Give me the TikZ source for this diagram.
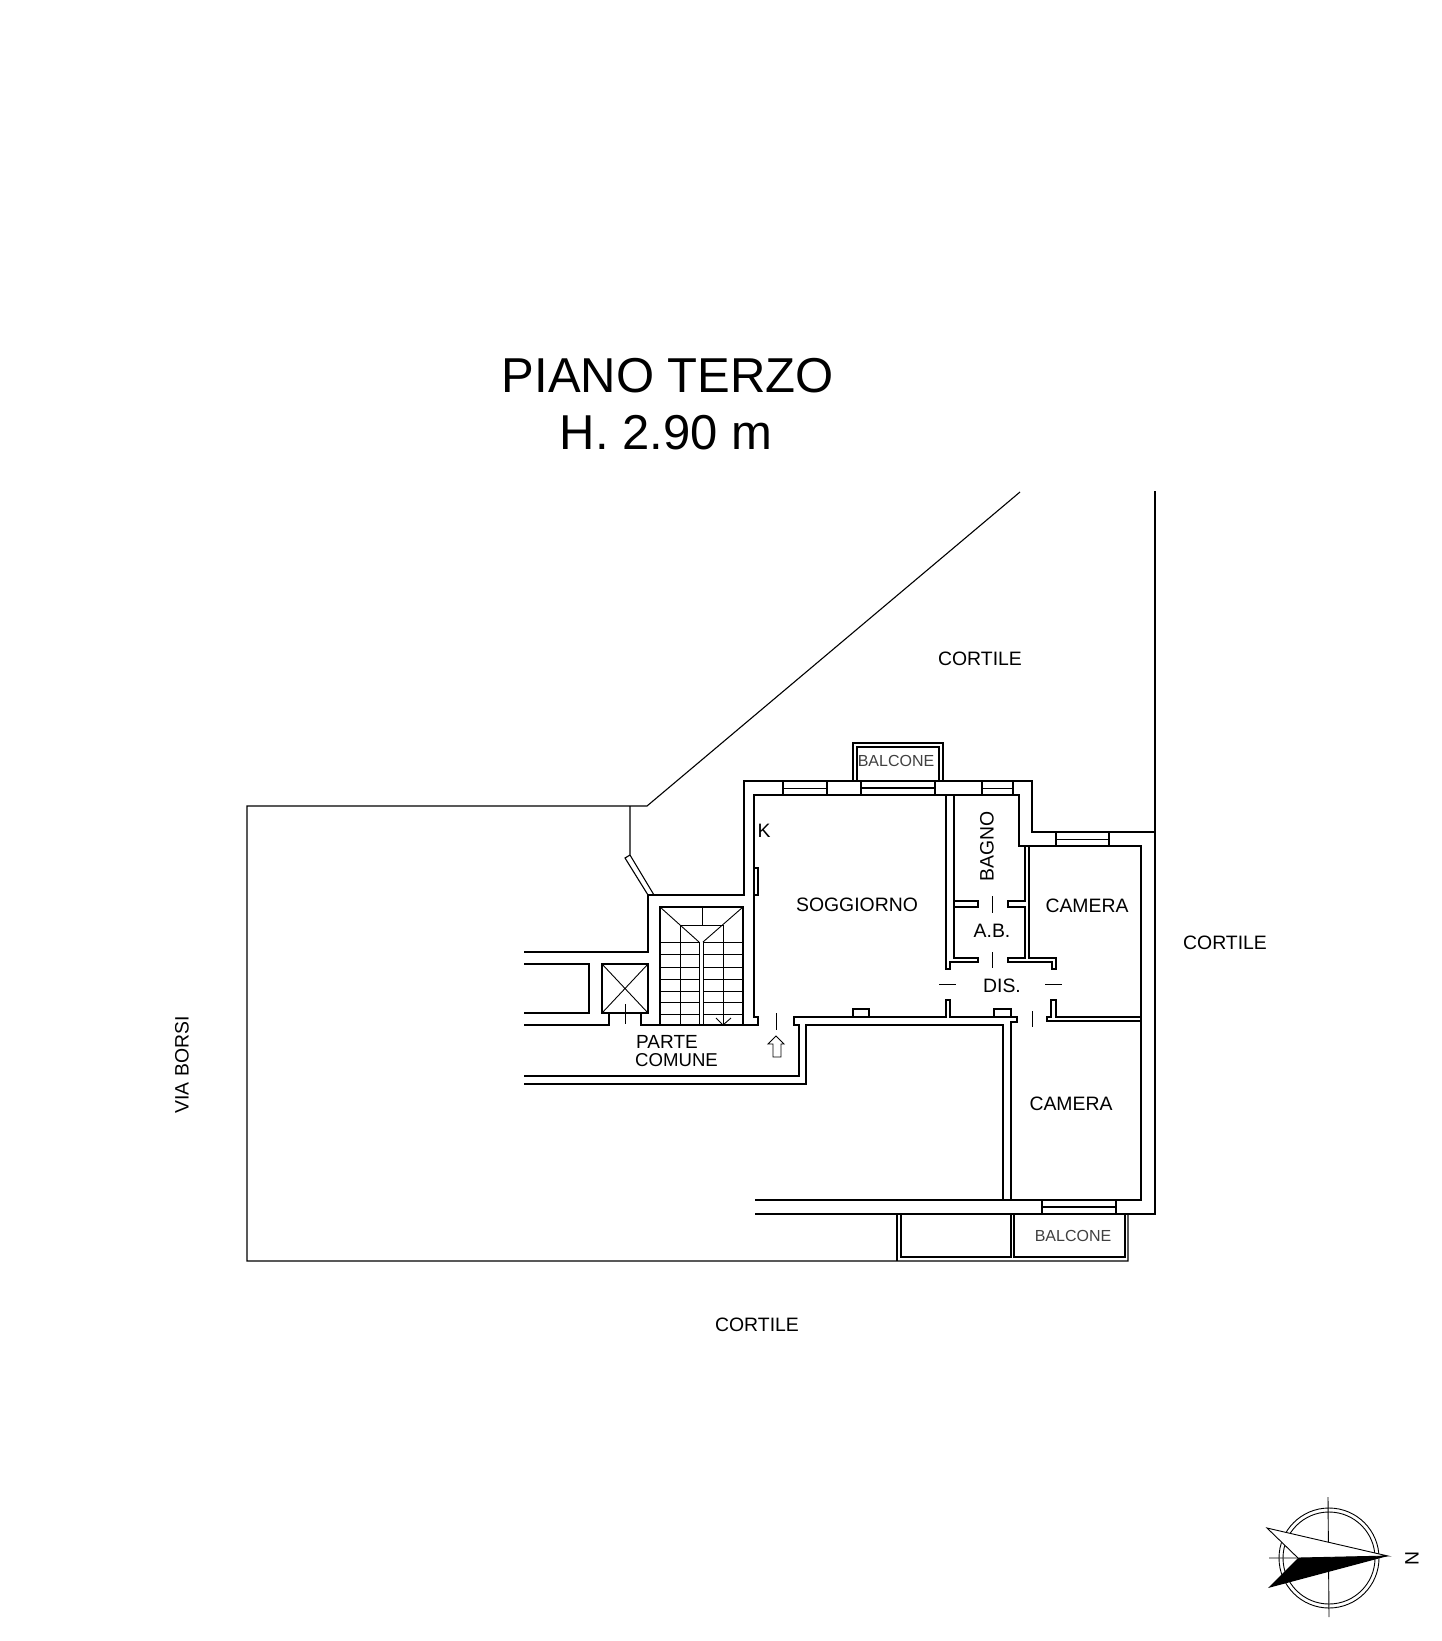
\documentclass[tikz,border=0pt]{standalone}
\usepackage{fontspec}
\setmainfont{Liberation Sans}
\tikzset{
  wall/.style={draw=black,line width=1.1pt,line join=miter},
  thin wall/.style={draw=black,line width=0.9pt},
  heavy/.style={draw=black,line width=2.6pt},
  lab/.style={inner sep=0pt,font=\fontsize{19.4}{19.4}\selectfont},
  lightlab/.style={inner sep=0pt,text=black!75,font=\fontsize{16}{16}\selectfont},
  titlelab/.style={inner sep=0pt,font=\fontsize{49}{49}\selectfont}
}
\begin{document}
\begin{tikzpicture}[x=1pt,y=-1pt]
\useasboundingbox (0,0) rectangle (1441,1641);
% site boundary
\draw[wall] (1020,492)--(647,806)--(247,806)--(247,1261)--(1128,1261)--(1128,1214);
\draw[wall] (1155,491)--(1155,1214)--(755,1214);
\draw[wall] (630,806)--(630,855)--(625,858)--(648,895)--(654,895)--(630,855);
% outer wall
\draw[wall] (524,952)--(648,952)--(648,895)--(744,895)--(744,781)--(1032,781)--(1032,832)--(1155,832);
% inner wall
\draw[wall] (755,1200)--(1141,1200)--(1141,846)--(1019,846)--(1019,795)--(754,795)--(754,1017)--(758,1017)--(758,1025)--(641,1025)--(641,1013);
\draw[wall] (754,868)--(758,868)--(758,895)--(754,895);
% lift and left core
\draw[wall] (602,964) rectangle (648,1013);
\draw[thin wall] (602,964)--(648,1013) (648,964)--(602,1013);
\draw[thin wall] (625,1004)--(625,1024);
\draw[wall] (524,964)--(589,964)--(589,1013)--(524,1013);
\draw[wall] (524,1025)--(609,1025)--(609,1013);
% corridor
\draw[wall] (524,1076)--(799,1076)--(799,1025)--(794,1025)--(794,1017)--(946,1017)--(946,1000)--(950,1000)--(950,1017)--(1017,1017)--(1017,1022)--(1011,1022)--(1011,1200);
\draw[wall] (524,1084)--(806,1084)--(806,1025)--(1003,1025)--(1003,1200);
% niches
\draw[wall] (853,1017)--(853,1009)--(869,1009)--(869,1017);
\draw[wall] (994,1017)--(994,1009)--(1011,1009)--(1011,1017);
% stairs
\draw[wall] (660,1025)--(660,907)--(743,907)--(743,1025);
\draw[thin wall] (660,907)--(699,942) (743,907)--(703,942);
\draw[thin wall] (702,907)--(702,925) (680,925)--(723,925);
\draw[thin wall] (680,925)--(680,1025) (723,925)--(723,1025);
\draw[thin wall] (699,942)--(699,1025) (703,942)--(703,1025);
\foreach \yy in {942,954,967,979,991,1002,1014}{
  \draw[thin wall] (660,\yy)--(699,\yy) (703,\yy)--(743,\yy);
}
\draw[thin wall] (716,1018)--(723,1025)--(731,1018);
% entrance
\draw[thin wall] (776,1013)--(776,1030);
\draw[thin wall] (776,1036)--(784,1044)--(781,1044)--(781,1057)--(773,1057)--(773,1044)--(768,1044)--cycle;
% top windows
\draw[wall] (783,781)--(783,795) (827,781)--(827,795);
\draw[thin wall] (783,788)--(827,788);
\draw[wall] (861,781)--(861,795) (935,781)--(935,795);
\draw[heavy] (861,788)--(935,788);
\draw[wall] (982,781)--(982,795) (1013,781)--(1013,795);
\draw[thin wall] (982,788)--(1013,788);
% top balcony
\draw[wall] (853,781)--(853,743)--(943,743)--(943,781);
\draw[wall] (857,781)--(857,747)--(939,747)--(939,781);
% right window
\draw[wall] (1056,832)--(1056,846) (1109,832)--(1109,846);
\draw[thin wall] (1056,839)--(1109,839);
% bottom window
\draw[wall] (1042,1200)--(1042,1214) (1116,1200)--(1116,1214);
\draw[heavy] (1042,1207)--(1116,1207);
% bottom balconies
\draw[wall] (897,1214)--(897,1261);
\draw[wall] (901,1214)--(901,1257)--(1011,1257)--(1011,1214);
\draw[wall] (1014,1214)--(1014,1257)--(1125,1257)--(1125,1214);
% partitions bath
\draw[wall] (946,795)--(946,969)--(950,969)--(950,962)--(978,962)--(978,958)--(954,958)--(954,795);
\draw[wall] (954,901)--(978,901)--(978,907)--(954,907);
\draw[wall] (1025,846)--(1025,901)--(1008,901)--(1008,907)--(1025,907)--(1025,958)--(1008,958)--(1008,962)--(1052,962)--(1052,969)--(1056,969)--(1056,958)--(1029,958)--(1029,846);
% room on the right, lower wall
\draw[wall] (1141,1017)--(1056,1017)--(1056,1000)--(1051,1000)--(1051,1017)--(1047,1017)--(1047,1021)--(1141,1021);
% door ticks
\draw[thin wall] (992,896)--(992,913) (992,952)--(992,968);
\draw[thin wall] (939,984)--(956,984) (1045,984)--(1062,984);
\draw[thin wall] (1032,1011)--(1032,1027);
% compass
\draw[thin wall] (1329,1558) circle (50);
\draw[thin wall] (1329,1558) circle (46);
\draw[thin wall] (1328,1497)--(1329,1617) (1269,1558)--(1298,1558);
\draw[thin wall,fill=white] (1267,1528)--(1388,1556)--(1298,1558)--cycle;
\fill[black] (1298,1558)--(1388,1556)--(1268,1588)--cycle;
% labels
\node[titlelab] (title1) at (668,376) {PIANO TERZO};
\node[titlelab] (title2) at (666,433) {H. 2.90 m};
\node[lab] (c1) at (980,659) {CORTILE};
\node[lab] (c2) at (1225,943) {CORTILE};
\node[lab] (c3) at (757,1325) {CORTILE};
\node[lab,rotate=90] (via) at (182,1065) {VIA BORSI};
\node[lightlab] (b1) at (896,761) {BALCONE};
\node[lightlab] (b2) at (1073,1236) {BALCONE};
\node[lab] (kk) at (764,831) {K};
\node[lab] (sog) at (857,905) {SOGGIORNO};
\node[lab,rotate=90] (bag) at (987,846) {BAGNO};
\node[lab] (cam1) at (1087,906) {CAMERA};
\node[lab] (cam2) at (1071,1104) {CAMERA};
\node[lab] (ab) at (992,931) {A.B.};
\node[lab] (dis) at (1002,986) {DIS.};
\node[lab,anchor=west,font=\fontsize{19}{19}\selectfont] (pc1) at (636,1042) {PARTE};
\node[lab,anchor=west,font=\fontsize{18.6}{18.6}\selectfont] (pc2) at (635,1060) {COMUNE};
\node[lab,rotate=90] (nn) at (1412,1558) {N};
\end{tikzpicture}
\end{document}
